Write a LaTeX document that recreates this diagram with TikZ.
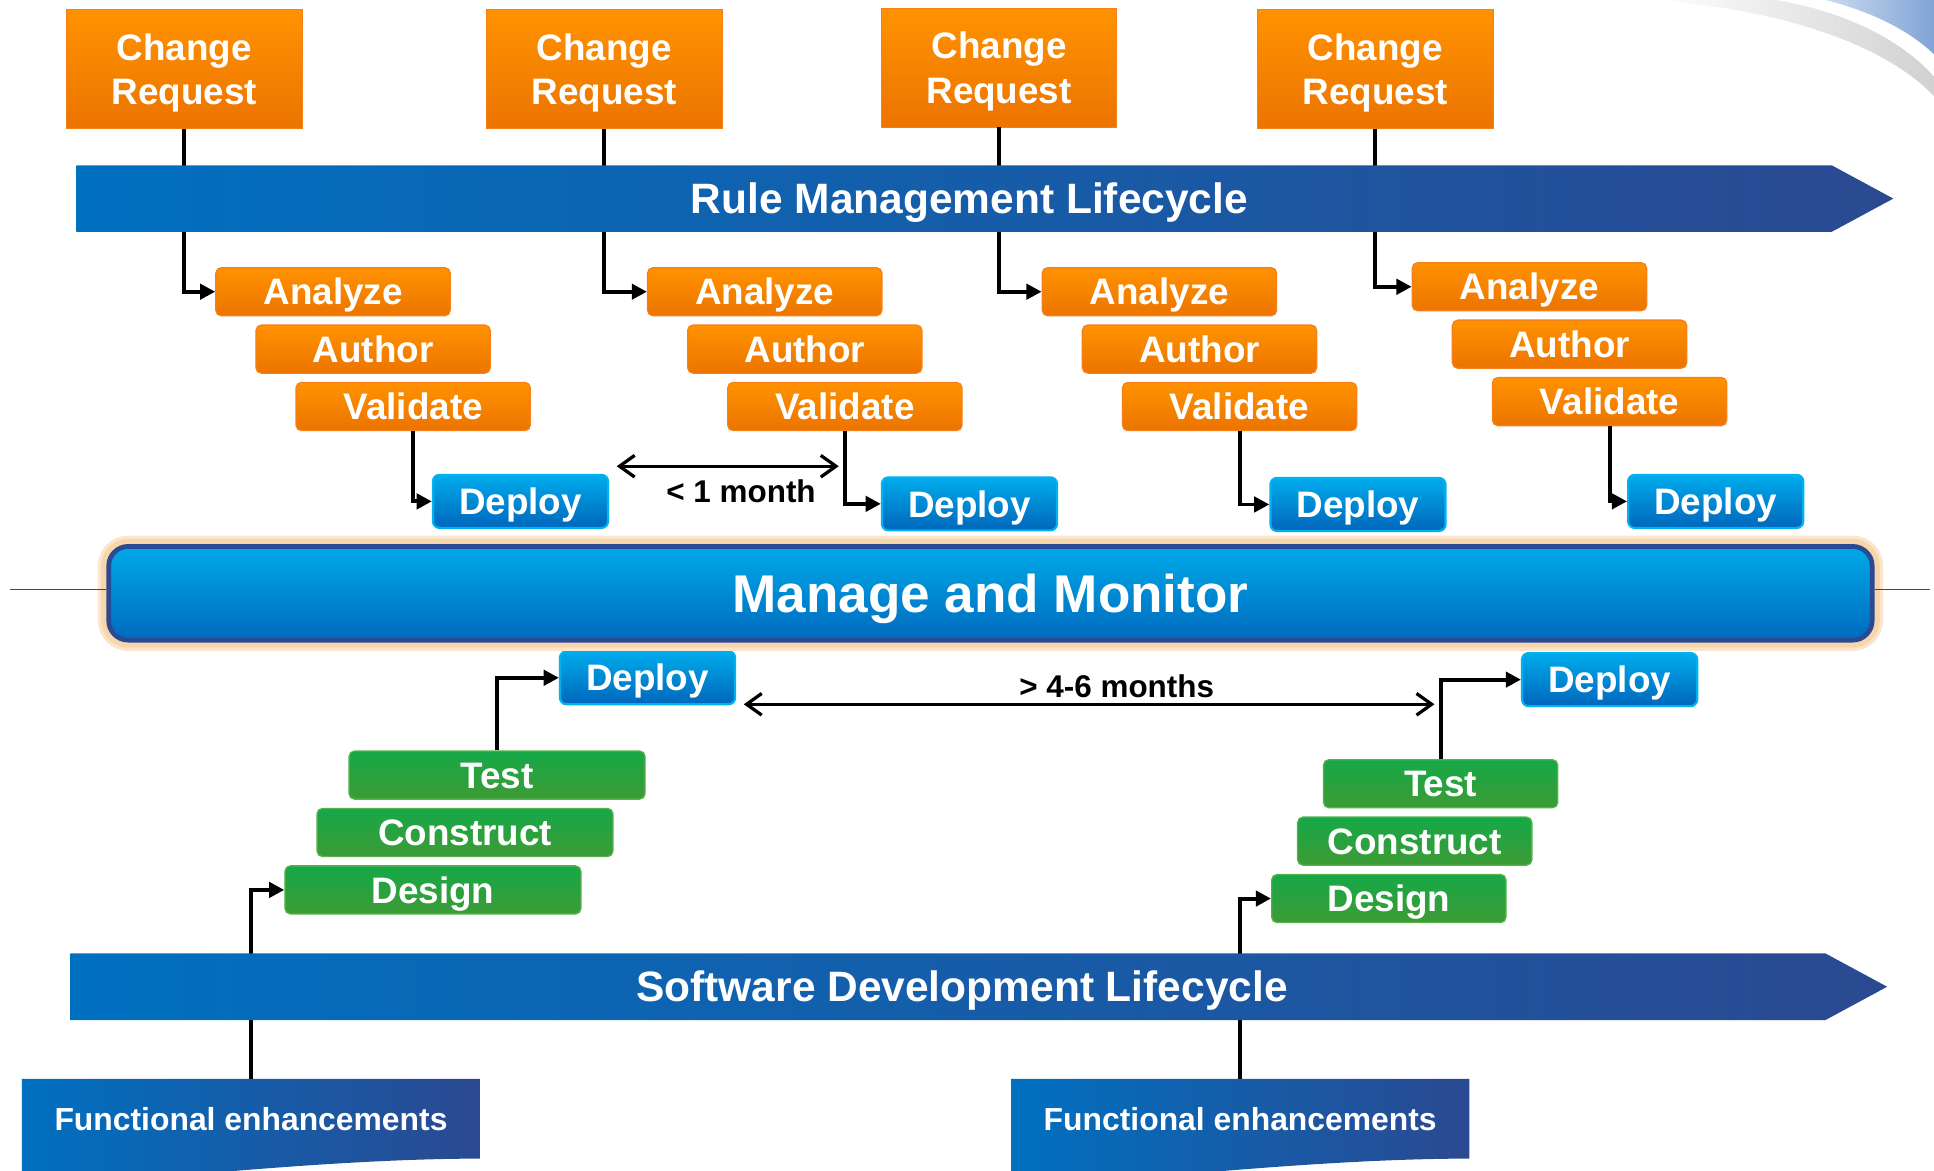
\documentclass[tikz,border=0pt]{standalone}
\usepackage{fontspec}
\setmainfont{Liberation Sans}
\usetikzlibrary{arrows.meta,positioning,backgrounds}
\definecolor{orngA}{RGB}{255,146,0}
\definecolor{orngB}{RGB}{236,116,0}
\definecolor{orngEdge}{RGB}{246,128,24}
\definecolor{bluA}{RGB}{0,172,236}
\definecolor{bluB}{RGB}{0,102,187}
\definecolor{bluEdge}{RGB}{0,178,240}
\definecolor{grnA}{RGB}{22,168,72}
\definecolor{grnB}{RGB}{61,155,53}
\definecolor{grnEdge}{RGB}{86,178,76}
\definecolor{bandL}{RGB}{0,112,192}
\definecolor{bandR}{RGB}{43,73,145}
\definecolor{mmTop}{RGB}{0,170,232}
\definecolor{mmBot}{RGB}{0,106,190}
\definecolor{mmEdge}{RGB}{43,74,150}
\definecolor{glow}{RGB}{248,214,172}
\definecolor{swoosh}{RGB}{128,164,214}

\begin{document}
\begin{tikzpicture}[
  x=0.02cm, y=-0.02cm,
  % boxes
  every node/.style={text=white},
  stepbox/.style={
    rounded corners=2.5pt,
    minimum width=3.8cm,
    minimum height=0.78cm,
    inner sep=0pt,
    line width=0.6pt,
    text height=12.2pt,
    text depth=0pt,
    font=\fontsize{17}{20.5}\selectfont\bfseries
  },
  orangebox/.style={stepbox, draw=orngEdge, top color=orngA, bottom color=orngB},
  greenbox/.style={stepbox, draw=grnEdge, top color=grnA, bottom color=grnB},
  deploybox/.style={stepbox, minimum width=2.84cm, minimum height=0.86cm,
    rounded corners=3pt, line width=1pt, draw=bluEdge, top color=bluA, bottom color=bluB},
  crbox/.style={
    draw=orngEdge, top color=orngA, bottom color=orngB,
    minimum width=3.82cm, minimum height=1.92cm,
    inner sep=0pt, align=center, text depth=0pt,
    font=\fontsize{17}{20.5}\selectfont\bfseries
  },
  band/.style={left color=bandL, right color=bandR},
  bandtext/.style={text height=14pt, text depth=0pt,
    font=\fontsize{19.6}{24}\selectfont\bfseries},
  fetext/.style={minimum width=7.42cm, minimum height=1.28cm, inner sep=0pt,
    font=\fontsize{14.7}{18}\selectfont\bfseries},
  arr/.style={-{Triangle[length=7pt,width=7pt]}, line width=1.8pt, black},
  span/.style={{Straight Barb[length=7pt,width=10pt]}-{Straight Barb[length=7pt,width=10pt]},
    line width=1.5pt, black},
  spanlabel/.style={text=black, font=\fontsize{14.5}{17}\selectfont\bfseries}
]
\useasboundingbox (0,0) rectangle (1568,949);

% Corner swoosh
\begin{scope}[on background layer]
  \shade[left color=white, right color=black!18] (1340,0) .. controls (1450,8) and (1530,38) .. (1568,78) -- (1568,0) -- cycle;
  \fill[white] (1440,0) .. controls (1490,8) and (1540,30) .. (1568,62) -- (1568,0) -- cycle;
  \shade[left color=swoosh!40, right color=swoosh] (1480,0) .. controls (1512,8) and (1545,22) .. (1568,44) -- (1568,0) -- cycle;
\end{scope}

% Change requests
\node[crbox] (cr1) at (149.5,56) {Change\\Request};
\node[crbox] (cr2) at (490,56) {Change\\Request};
\node[crbox] (cr3) at (810,55) {Change\\Request};
\node[crbox] (cr4) at (1115,56) {Change\\Request};

% Rule steps
\node[orangebox] (an1) at (270,236.5) {Analyze};
\node[orangebox, below=0.13cm of an1, xshift=0.65cm] (au1) {Author};
\node[orangebox, below=0.13cm of au1, xshift=0.65cm] (va1) {Validate};
\node[deploybox] (dp1) at (422,406.5) {Deploy};

\node[orangebox] (an2) at (620,236.5) {Analyze};
\node[orangebox, below=0.13cm of an2, xshift=0.65cm] (au2) {Author};
\node[orangebox, below=0.13cm of au2, xshift=0.65cm] (va2) {Validate};
\node[deploybox] (dp2) at (786,408.5) {Deploy};

\node[orangebox] (an3) at (940,236.5) {Analyze};
\node[orangebox, below=0.13cm of an3, xshift=0.65cm] (au3) {Author};
\node[orangebox, below=0.13cm of au3, xshift=0.65cm] (va3) {Validate};
\node[deploybox] (dp3) at (1101,409) {Deploy};

\node[orangebox] (an4) at (1240,232.5) {Analyze};
\node[orangebox, below=0.13cm of an4, xshift=0.65cm] (au4) {Author};
\node[orangebox, below=0.13cm of au4, xshift=0.65cm] (va4) {Validate};
\node[deploybox] (dp4) at (1391,406.5) {Deploy};

% Software steps
\node[greenbox, minimum width=4.8cm] (ds1) at (351,721.5) {Design};
\node[greenbox, minimum width=4.8cm, above=0.13cm of ds1, xshift=0.52cm] (cn1) {Construct};
\node[greenbox, minimum width=4.8cm, above=0.13cm of cn1, xshift=0.52cm] (ts1) {Test};
\node[deploybox] (dp5) at (525,549.5) {Deploy};

\node[greenbox] (ds2) at (1126,728.5) {Design};
\node[greenbox, above=0.13cm of ds2, xshift=0.42cm] (cn2) {Construct};
\node[greenbox, above=0.13cm of cn2, xshift=0.42cm] (ts2) {Test};
\node[deploybox] (dp6) at (1305,551) {Deploy};

% Functional enhancements
\node[fetext] (fe1) at (203.5,907) {Functional enhancements};
\node[fetext] (fe2) at (1005.5,907) {Functional enhancements};
\begin{scope}[on background layer]
  \shade[band] (fe1.north west) -- (fe1.north east) -- (fe1.south east)
    .. controls +(-120,0) and +(100,-8) .. ([yshift=-0.5cm]fe1.south west) -- cycle;
  \shade[band] (fe2.north west) -- (fe2.north east) -- (fe2.south east)
    .. controls +(-120,0) and +(100,-8) .. ([yshift=-0.5cm]fe2.south west) -- cycle;
\end{scope}

% Connectors
\draw[arr] (cr1.south) |- (an1.west);
\draw[arr] (cr2.south) |- (an2.west);
\draw[arr] (cr3.south) |- (an3.west);
\draw[arr] (cr4.south) |- (an4.west);
\draw[arr] (va1.south) |- (dp1.west);
\draw[arr] (va2.south) |- (dp2.west);
\draw[arr] (va3.south) |- (dp3.west);
\draw[arr] (va4.south) |- (dp4.west);
\draw[arr] (ts1.north) |- (dp5.west);
\draw[arr] (ts2.north) |- (dp6.west);
\draw[arr] (fe1.north) |- (ds1.west);
\draw[arr] (fe2.north) |- (ds2.west);

% Lifecycle bands
\shade[band] (62,134) -- (1485,134) -- (1535,161) -- (1485,188) -- (62,188) -- cycle;
\node[bandtext] (rml) at (786,161) {Rule Management Lifecycle};
\shade[band] (57,773) -- (1480,773) -- (1530,800) -- (1480,827) -- (57,827) -- cycle;
\node[bandtext] (sdl) at (780,800) {Software Development Lifecycle};

% Manage and Monitor
\coordinate (ml) at (8,478);
\coordinate (mr) at (1565,478);
\node[
  rounded corners=9pt,
  minimum width=28.6cm,
  minimum height=1.52cm,
  preaction={draw=glow!60, line width=10pt},
  preaction={draw=glow, line width=7pt},
  draw=mmEdge, line width=2.2pt,
  top color=mmTop, bottom color=mmBot,
  text height=17.5pt, text depth=0pt,
  font=\fontsize{24.5}{28}\selectfont\bfseries
] (mm) at (803,481) {Manage and Monitor};
\draw[mmEdge, line width=0.8pt] (ml) -- (ml -| mm.west);
\draw[mmEdge, line width=0.8pt] (mm.east |- mr) -- (mr);

% Time spans
\coordinate (m1a) at (500,378);
\coordinate (m1b) at (680,378);
\draw[span] (m1a) -- (m1b) node[pos=0.56, below=2pt, spanlabel] {< 1 month};
\coordinate (m2a) at (603,571);
\coordinate (m2b) at (1163,571);
\draw[span] (m2a) -- (m2b) node[pos=0.54, above=-1pt, spanlabel] {> 4-6 months};

\end{tikzpicture}
\end{document}
